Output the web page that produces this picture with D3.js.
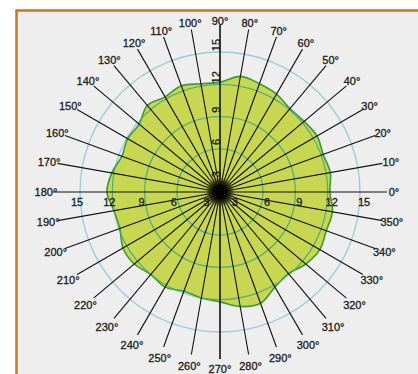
<!DOCTYPE html>
<html>
<head>
<meta charset="utf-8">
<script src="https://cdn.jsdelivr.net/npm/d3@7"></script>
<style>
  html, body { margin: 0; padding: 0; background: #ffffff; }
  svg { display: block; }
  text { font-family: "Liberation Sans", Arial, sans-serif; }
</style>
</head>
<body>
<svg id="chart" width="418" height="374"></svg>
<script>
// Direction of every spoke, in degrees counter-clockwise from east
const directions = d3.range(0, 360, 10);

// Radius of the filled pattern along each spoke (same order as directions)
const patternValues = [
  12.2, 12.4, 12.2, 12.4, 12.2, 12.1, 12.5, 12.7, 12.9,
  12.2, 12.2, 12.5, 12.2, 12.5, 11.8, 11.9, 11.7, 12.2,
  12.5, 12.0, 11.9, 12.4, 12.4, 12.0, 12.2, 11.8, 12.0,
  12.2, 12.8, 13.0, 12.2, 11.9, 12.4, 12.7, 12.5, 12.6
];

// Radial grid rings and their labels
const ringValues = [3, 6, 9, 12, 15];
const ringLabels = ["3", "6", "9", "12", "15"];

const W = 418, H = 374;
const cx = 220, cy = 192;

const svg = d3.select("#chart");

// Frame
svg.append("rect").attr("x", 0).attr("y", 0).attr("width", W).attr("height", H).attr("fill", "#ffffff");
svg.append("rect")
  .attr("x", 16.5).attr("y", 10.5)
  .attr("width", W + 10).attr("height", H + 10)
  .attr("fill", "#efeeee")
  .attr("stroke", "#c8781e").attr("stroke-width", 2.5);

const r = d3.scaleLinear().domain([2, 15]).range([0, 140]);
const toRad = d => d * Math.PI / 180;
const px = (deg, R) => cx + R * Math.cos(toRad(deg));
const py = (deg, R) => cy - R * Math.sin(toRad(deg));

const g = svg.append("g").attr("transform", `translate(${cx},${cy})`);

// Rings below the pattern
g.selectAll("circle.ring").data(ringValues).join("circle")
  .attr("class", "ring")
  .attr("r", d => r(d))
  .attr("fill", "none")
  .attr("stroke", "#9accd4")
  .attr("stroke-width", 1.3);

// Filled pattern
const pattern = directions.map((deg, i) => ({ deg, v: patternValues[i] }));
const radial = d3.lineRadial()
  .angle(d => toRad(90 - d.deg))
  .radius(d => r(d.v))
  .curve(d3.curveCardinalClosed.tension(0));
const blobPath = radial(pattern);

svg.append("defs").html(`
  <clipPath id="blobClip"><path d="${blobPath}" transform="translate(${cx},${cy})"></path></clipPath>
  <radialGradient id="hub">
    <stop offset="0%" stop-color="#000" stop-opacity="1"></stop>
    <stop offset="45%" stop-color="#050500" stop-opacity="1"></stop>
    <stop offset="75%" stop-color="#2a2a05" stop-opacity="0.7"></stop>
    <stop offset="100%" stop-color="#3a3a10" stop-opacity="0"></stop>
  </radialGradient>`);

g.append("path")
  .attr("d", blobPath)
  .attr("fill", "#c8d752")
  .attr("stroke", "#3a9a38")
  .attr("stroke-width", 1.6);

// Rings seen through the pattern
svg.append("g").attr("clip-path", "url(#blobClip)")
  .append("g").attr("transform", `translate(${cx},${cy})`)
  .selectAll("circle").data(ringValues).join("circle")
  .attr("r", d => r(d))
  .attr("fill", "none")
  .attr("stroke", "#5aad70")
  .attr("stroke-width", 1.3);

// Spokes
const spokeLen = 165;
svg.selectAll("line.spoke").data(directions).join("line")
  .attr("class", "spoke")
  .attr("x1", cx).attr("y1", cy)
  .attr("x2", d => px(d, d % 90 === 0 ? 167 : spokeLen))
  .attr("y2", d => py(d, d % 90 === 0 ? 167 : spokeLen))
  .attr("stroke", d => d % 180 === 90 ? "#2a2a2a" : "#111")
  .attr("stroke-width", d => d % 180 === 90 ? 1.8 : 1.1);

// Hub
svg.append("circle").attr("cx", cx).attr("cy", cy).attr("r", 15).attr("fill", "url(#hub)");

// Direction labels
svg.selectAll("text.dir").data(directions).join("text")
  .attr("class", "dir")
  .attr("x", d => px(d, 174 - 2.5 * Math.sin(toRad(d))))
  .attr("y", d => py(d, 174 - 2.5 * Math.sin(toRad(d))))
  .attr("text-anchor", "middle")
  .attr("dominant-baseline", "central")
  .attr("font-size", 11)
  .attr("fill", "#1a1a1a")
  .attr("stroke", "#1a1a1a")
  .attr("stroke-width", 0.3)
  .text(d => d + "°");

// Ring labels along the horizontal axis
const axisLabels = svg.append("g")
  .attr("font-size", 11)
  .attr("fill", "#1a1a1a")
  .attr("stroke", "#1a1a1a")
  .attr("stroke-width", 0.3);
ringValues.forEach((v, i) => {
  axisLabels.append("text")
    .attr("x", cx - r(v) - 3).attr("y", cy + 14)
    .attr("text-anchor", "middle").text(ringLabels[i]);
  axisLabels.append("text")
    .attr("x", cx + r(v) + 4).attr("y", cy + 14)
    .attr("text-anchor", "middle").text(ringLabels[i]);
  // Along the vertical axis, rotated
  axisLabels.append("text")
    .attr("transform", `translate(${cx - 0.5},${cy - r(v) - 7}) rotate(-90)`)
    .attr("text-anchor", "middle").text(ringLabels[i]);
});
</script>
</body>
</html>
